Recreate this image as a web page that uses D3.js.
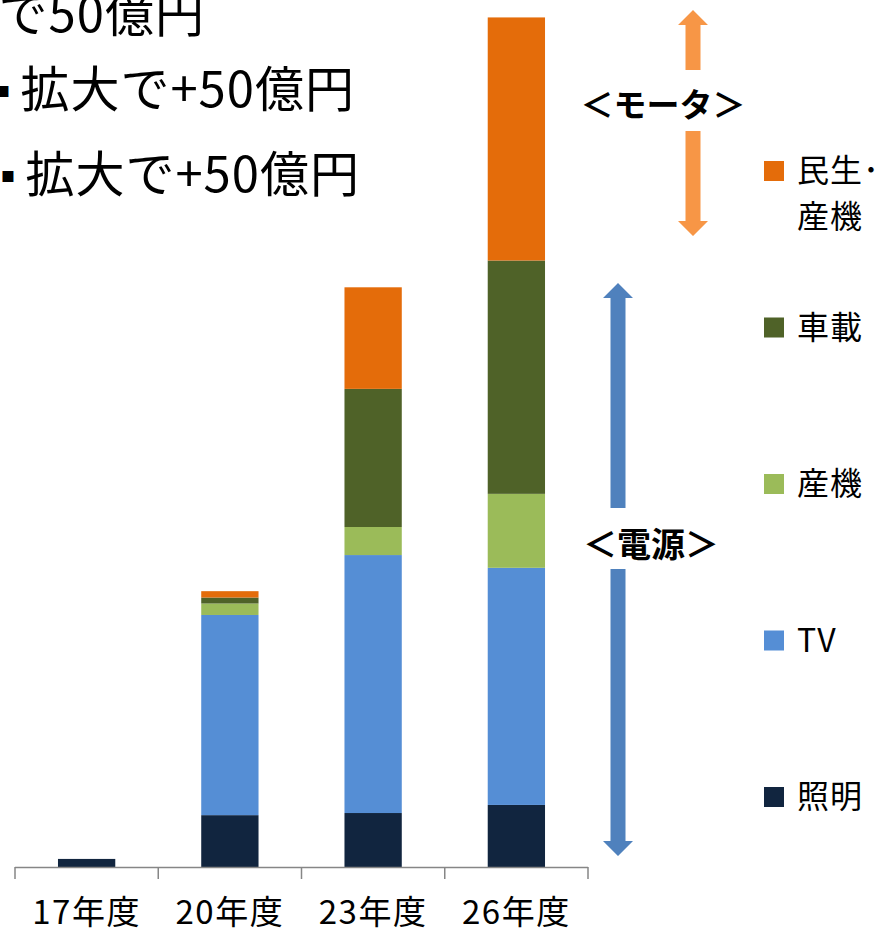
<!DOCTYPE html>
<html>
<head>
<meta charset="utf-8">
<script src="https://cdn.jsdelivr.net/npm/d3@7"></script>
<style>
  body { margin: 0; background: #fff; }
  text { font-family: "Noto Sans CJK JP", "Noto Sans", sans-serif; }
</style>
</head>
<body>
<div id="chart"></div>
<script>
// data
var years = ["17年度", "20年度", "23年度", "26年度"]
var keys = ["照明", "TV", "産機", "車載", "民生"]
var lighting = [1.9, 12.2, 12.7, 14.6]
var tv = [0, 47.1, 60.7, 55.8]
var industrial = [0, 2.7, 6.6, 17.4]
var automotive = [0, 1.4, 32.5, 54.9]
var consumer = [0, 1.5, 23.9, 57.2]
var legendLabels = [["民生･", "産機"], ["車載"], ["産機"], ["TV"], ["照明"]]
var noteLines = [["", "で50億円"], ["▪", "拡大で+50億円"], ["▪", "拡大で+50億円"]]

var colors = {"照明": "#11253f", "TV": "#558ed5", "産機": "#9bbb59", "車載": "#4f6228", "民生": "#e46c0a"}

var width = 887, height = 933

var svg = d3.select("#chart").append("svg")
  .attr("width", width)
  .attr("height", height)

var rows = years.map(function(y, i) {
  return {year: y, "照明": lighting[i], "TV": tv[i], "産機": industrial[i], "車載": automotive[i], "民生": consumer[i]}
})

var stacked = d3.stack().keys(keys)(rows)

// scales
var xScale = d3.scaleBand()
  .domain(years)
  .range([15, 588])
  .paddingInner(0.6)
  .paddingOuter(0.3)

var yScale = d3.scaleLinear()
  .domain([0, 200])
  .range([867, 17])

// bars
svg.append("g").selectAll("g")
  .data(stacked)
  .enter().append("g")
  .attr("fill", function(d) { return colors[d.key] })
  .selectAll("rect")
  .data(function(d) { return d })
  .enter().append("rect")
  .attr("x", function(d) { return xScale(d.data.year) })
  .attr("width", xScale.bandwidth())
  .attr("y", function(d) { return yScale(d[1]) })
  .attr("height", function(d) { return yScale(d[0]) - yScale(d[1]) })

// x axis
var axisG = svg.append("g")
  .attr("transform", "translate(0," + yScale(0) + ")")

axisG.append("line")
  .attr("x1", xScale.range()[0]).attr("x2", xScale.range()[1])
  .attr("y1", 0.5).attr("y2", 0.5)
  .attr("stroke", "#868686").attr("stroke-width", 1.5)

d3.range(years.length + 1).forEach(function(i) {
  var bx = xScale.range()[0] + i * xScale.step()
  axisG.append("line")
    .attr("x1", bx).attr("x2", bx)
    .attr("y1", 0).attr("y2", 12)
    .attr("stroke", "#868686").attr("stroke-width", 1.5)
})

axisG.selectAll(".xlabel")
  .data(years)
  .enter().append("text")
  .attr("class", "xlabel")
  .attr("x", function(d) { return xScale(d) + xScale.bandwidth() / 2 })
  .attr("y", 57)
  .attr("text-anchor", "middle")
  .attr("font-size", 33)
  .attr("letter-spacing", 1.5)
  .attr("fill", "#000")
  .text(function(d) { return d })

// legend
var legendKeys = ["民生", "車載", "産機", "TV", "照明"]
var legend = svg.append("g").selectAll("g")
  .data(legendKeys)
  .enter().append("g")
  .attr("transform", function(d, i) { return "translate(764," + (171 + i * 156.5) + ")" })

legend.append("rect")
  .attr("x", 0).attr("y", -10)
  .attr("width", 20).attr("height", 20)
  .attr("fill", function(d) { return colors[d] })

legend.each(function(d, i) {
  var t = d3.select(this).append("text")
    .attr("x", 33).attr("y", 11)
    .attr("font-size", 32)
    .attr("letter-spacing", 1)
    .attr("fill", "#000")
  legendLabels[i].forEach(function(line, j) {
    t.append("tspan").attr("x", 33).attr("dy", j === 0 ? 0 : 46).text(line)
  })
})

// arrows
function arrowPath(cx, tipY, endY, headLen, headW, shaftW) {
  var dir = endY > tipY ? 1 : -1
  var hy = tipY + dir * headLen
  return "M" + cx + "," + tipY +
    "L" + (cx + headW / 2) + "," + hy +
    "L" + (cx + shaftW / 2) + "," + hy +
    "L" + (cx + shaftW / 2) + "," + endY +
    "L" + (cx - shaftW / 2) + "," + endY +
    "L" + (cx - shaftW / 2) + "," + hy +
    "L" + (cx - headW / 2) + "," + hy + "Z"
}

var arrows = [
  {cx: 693, tip: 10, end: 70, color: "#f79646"},
  {cx: 693, tip: 236, end: 131, color: "#f79646"},
  {cx: 618, tip: 283, end: 508, color: "#4f81bd"},
  {cx: 618, tip: 856, end: 569, color: "#4f81bd"}
]

svg.append("g").selectAll("path")
  .data(arrows)
  .enter().append("path")
  .attr("d", function(d) { return arrowPath(d.cx, d.tip, d.end, 15, 30, 15) })
  .attr("fill", function(d) { return d.color })

svg.append("text")
  .attr("x", 663).attr("y", 117)
  .attr("text-anchor", "middle")
  .attr("font-size", 33)
  .attr("font-weight", "bold")
  .text("＜モータ＞")

svg.append("text")
  .attr("x", 651).attr("y", 557)
  .attr("text-anchor", "middle")
  .attr("font-size", 34)
  .attr("font-weight", "bold")
  .text("＜電源＞")

// notes top left
var notes = svg.append("g")
var noteEnds = [205, 355, 360]
var noteY = [22, 107, 192]
noteLines.forEach(function(line, i) {
  var t = notes.append("text")
    .attr("x", noteEnds[i]).attr("y", noteY[i])
    .attr("text-anchor", "end")
    .attr("font-size", 49)
    .attr("letter-spacing", 1)
    .attr("fill", "#000")
  t.append("tspan")
    .attr("font-family", "DejaVu Sans")
    .attr("font-size", 22)
    .attr("dy", -10)
    .text(line[0])
  t.append("tspan")
    .attr("dx", line[0] ? 9 : 0)
    .attr("dy", 10)
    .text(line[1])
})
</script>
</body>
</html>
